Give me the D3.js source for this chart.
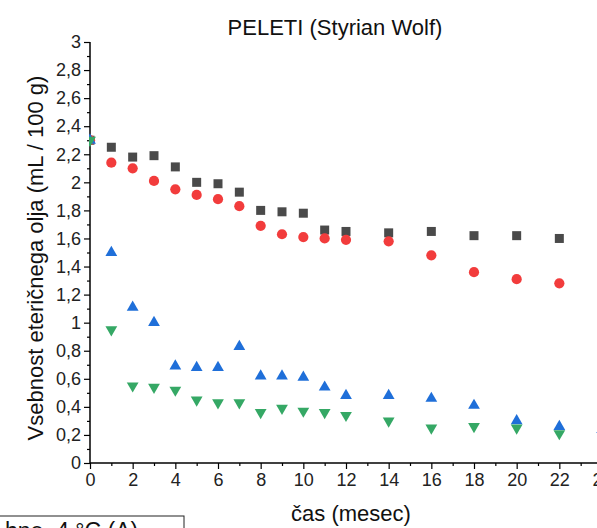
<!DOCTYPE html>
<html><head><meta charset="utf-8">
<script src="https://cdn.jsdelivr.net/npm/d3@7"></script>
<style>html,body{margin:0;padding:0;background:#fff;overflow:hidden}svg{display:block}</style>
</head><body>
<script>
const title = "PELETI (Styrian Wolf)";
const xTitle = "čas (mesec)";
const yTitle = "Vsebnost eteričnega olja (mL / 100 g)";
const legendText = "hno, 4 °C (A)";
const months = [0,1,2,3,4,5,6,7,8,9,10,11,12,14,16,18,20,22];
const monthsBlue = [0,1,2,3,4,5,6,7,8,9,10,11,12,14,16,18,20,22,24];
const seriesSquare = [2.30,2.25,2.18,2.19,2.11,2.00,1.99,1.93,1.80,1.79,1.78,1.66,1.65,1.64,1.65,1.62,1.62,1.60];
const seriesCircle = [2.30,2.14,2.10,2.01,1.95,1.91,1.88,1.83,1.69,1.63,1.61,1.60,1.59,1.58,1.48,1.36,1.31,1.28];
const seriesUp = [2.30,1.50,1.11,1.00,0.69,0.68,0.68,0.83,0.62,0.62,0.61,0.54,0.48,0.48,0.46,0.41,0.30,0.26,0.24];
const seriesDown = [2.30,0.95,0.55,0.54,0.52,0.45,0.43,0.43,0.36,0.39,0.37,0.36,0.34,0.30,0.25,0.26,0.25,0.21];
const xTicks = [0,2,4,6,8,10,12,14,16,18,20,22,24];
const yTicks = [0,0.2,0.4,0.6,0.8,1,1.2,1.4,1.6,1.8,2,2.2,2.4,2.6,2.8,3];

const W = 597, H = 528;
const font = "'Liberation Sans', Arial, sans-serif";
const svg = d3.select("body").append("svg").attr("width", W).attr("height", H);
const x = d3.scaleLinear().domain([0, 24]).range([90, 602]);
const y = d3.scaleLinear().domain([0, 3]).range([463, 42]);
const fmt = v => d3.format("~g")(+v.toFixed(1)).replace(".", ",");

svg.append("defs").append("clipPath").attr("id", "clip")
  .append("rect").attr("x", 89).attr("y", 0).attr("width", 600).attr("height", 470);

svg.append("text").attr("x", 335).attr("y", 35).attr("text-anchor", "middle")
  .attr("font-family", font).attr("font-size", 22).attr("fill", "#111").text(title);

// axes
const xAxis = d3.axisBottom(x).tickValues(xTicks).tickSize(6).tickPadding(4).tickFormat(d => d);
const xMinor = d3.axisBottom(x).tickValues(d3.range(1, 25, 2)).tickSize(3).tickFormat("");
const yAxis = d3.axisLeft(y).tickValues(yTicks).tickSize(6).tickPadding(3).tickFormat(fmt);
const yMinor = d3.axisLeft(y).tickValues(d3.range(1, 30, 2).map(v => v / 10)).tickSize(3).tickFormat("");

const gx = svg.append("g").attr("transform", "translate(0,463)").call(xAxis);
svg.append("g").attr("transform", "translate(0,463)").call(xMinor).select(".domain").remove();
const gy = svg.append("g").attr("transform", "translate(90,0)").call(yAxis);
svg.append("g").attr("transform", "translate(90,0)").call(yMinor).select(".domain").remove();
[gx, gy].forEach(g => {
  g.selectAll("text").attr("font-family", font).attr("font-size", 18).attr("fill", "#222");
});
svg.selectAll(".domain").attr("stroke", "#000").attr("stroke-width", 1.5);
svg.selectAll(".tick line").attr("stroke", "#000").attr("stroke-width", 1.2);
gx.selectAll(".domain").attr("d", "M90,0H610");
gy.selectAll(".domain").attr("d", "M0,42V463");

svg.append("text").attr("x", 351).attr("y", 521).attr("text-anchor", "middle")
  .attr("font-family", font).attr("font-size", 22).attr("fill", "#111").text(xTitle);
svg.append("text").attr("transform", "translate(43,258) rotate(-90)").attr("text-anchor", "middle")
  .attr("font-family", font).attr("font-size", 22).attr("fill", "#111").text(yTitle);

// markers
const plot = svg.append("g").attr("clip-path", "url(#clip)");
function draw(xs, vals, type, size, color, rot) {
  const sym = d3.symbol().type(type).size(size);
  plot.append("g").selectAll("path").data(vals).join("path")
    .attr("d", sym)
    .attr("transform", (d, i) => `translate(${x(xs[i])},${y(d)})` + (rot ? " rotate(180)" : ""))
    .attr("fill", color);
}
draw(months, seriesSquare, d3.symbolSquare, 81, "#4a4a4a", false);
draw(months, seriesCircle, d3.symbolCircle, 82, "#f23c3c", false);
draw(monthsBlue, seriesUp, d3.symbolTriangle, 60, "#1f6fd9", false);
draw(months, seriesDown, d3.symbolTriangle, 60, "#35a865", true);

// legend (partially visible)
svg.append("rect").attr("x", -200).attr("y", 516).attr("width", 384).attr("height", 100)
  .attr("fill", "#fff").attr("stroke", "#222").attr("stroke-width", 1);
svg.append("text").attr("x", 5).attr("y", 539).attr("font-family", font).attr("font-size", 23)
  .attr("fill", "#111").text(legendText);
</script>
</body></html>
